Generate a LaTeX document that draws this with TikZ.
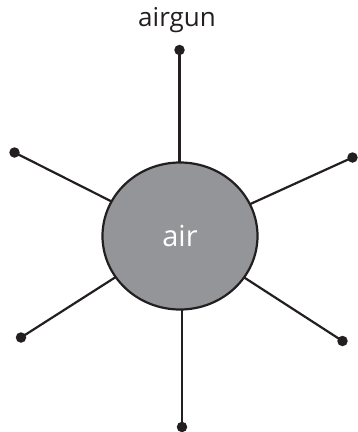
\documentclass[tikz,border=0pt]{standalone}
\usepackage{fontspec}
\setmainfont{Open Sans}
\usetikzlibrary{shapes.geometric}
\definecolor{ink}{RGB}{35,31,32}
\definecolor{hub}{RGB}{147,149,152}
\begin{document}
\begin{tikzpicture}[x=1pt,y=-1pt,
  spoke/.style={draw=ink,line width=2.2pt},
  dotend/.style={circle,fill=ink,inner sep=0pt,minimum size=10.5pt},
  hubnode/.style={ellipse,draw=ink,line width=2.2pt,fill=hub,minimum width=155pt,minimum height=147pt,inner sep=0pt,text=white,font=\fontsize{29}{32}\selectfont}]
\useasboundingbox (0,0) rectangle (357,432);
\coordinate (c) at (180,236);
\node[dotend] (d1) at (179.5,50) {};
\node[dotend] (d2) at (14.5,152.5) {};
\node[dotend] (d3) at (352.5,157.5) {};
\node[dotend] (d4) at (21,337.5) {};
\node[dotend] (d5) at (342.5,341) {};
\node[dotend] (d6) at (182,427) {};
\foreach \d in {d2,d3,d4,d5} \draw[spoke] (\d.center) -- (c);
\draw[spoke] (d1.center) -- (d1.center |- c);
\draw[spoke] (d6.center) -- (d6.center |- c);
\node[hubnode] (air) at (c) {air};
\node[font=\fontsize{26}{30}\selectfont,text=ink] (lbl) at (177,20) {airgun};
\end{tikzpicture}
\end{document}
